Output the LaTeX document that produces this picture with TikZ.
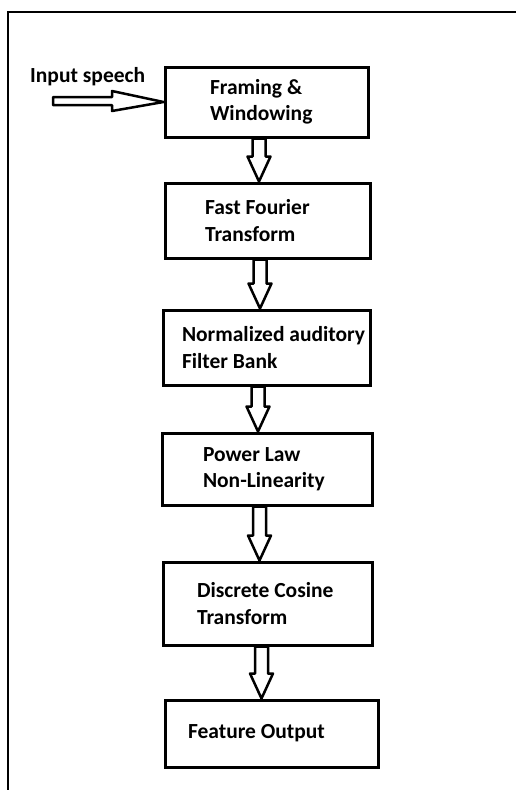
\documentclass[tikz,border=0pt]{standalone}
\usepackage{fontspec}
\setmainfont{Carlito}
\usetikzlibrary{calc}
\newcommand\blockdown[3]{%
  \draw[barrow] let \p1=(#1.south), \p2=(#2.north) in
    (\x1+#3pt-6.5pt,\y1) -- (\x1+#3pt+6.5pt,\y1) -- (\x1+#3pt+6.5pt,\y2+25pt)
    -- (\x1+#3pt+11.5pt,\y2+25pt) -- (\x1+#3pt,\y2) -- (\x1+#3pt-11.5pt,\y2+25pt)
    -- (\x1+#3pt-6.5pt,\y2+25pt) -- cycle;}
\begin{document}
\begin{tikzpicture}[x=1pt,y=-1pt,
  lbl/.style={font=\bfseries\fontsize{21.5}{26.5}\selectfont},
  box/.style={draw, line width=3pt, lbl, align=left, inner ysep=0pt, rectangle,
    execute at begin node={\spaceskip=0pt\xspaceskip=0pt}},
  barrow/.style={draw, line width=2.5pt, fill=white, line join=round}]
\useasboundingbox (0,0) rectangle (515,790);
\draw[line width=2.3pt] (8,800) -- (8,12) -- (530,12);

\node[box, inner xsep=45pt, text width=113pt, minimum height=70pt] (fw) at (266.5,102)
  {\mbox{Framing \&}\\\mbox{Windowing}};
\node[box, inner xsep=40pt, text width=125pt, minimum height=75pt] (fft) at (267.5,220.5)
  {\mbox{Fast Fourier}\\\mbox{Transform}};
\node[box, inner xsep=19pt, text width=169pt, minimum height=75pt] (nafb) at (266.5,347.5)
  {\mbox{Normalized auditory}\\\mbox{Filter Bank}};
\node[box, inner xsep=41pt, text width=128pt, minimum height=72pt] (pl) at (267,469)
  {\mbox{Power Law}\\\mbox{Non-Linearity}};
\node[box, inner xsep=34pt, text width=141pt, minimum height=83pt] (dct) at (267.5,603.5)
  {\mbox{Discrete Cosine}\\\mbox{Transform}};
\node[box, inner xsep=23pt, text width=167pt, minimum height=67pt] (fo) at (271.5,733.5)
  {\mbox{Feature Output}};

\node[lbl, anchor=base west, inner sep=0pt] (inlbl) at (30,82.7) {Input speech};
\coordinate (instart) at (53,101);
\draw[barrow] let \p1=(instart), \p2=(fw.west) in
  (\x1,\y1-4pt) -- (112,\y1-4pt) -- (112,\y1-10pt) -- (\x2,\y2) -- (112,\y1+10pt)
  -- (112,\y1+4pt) -- (\x1,\y1+4pt) -- cycle;

\blockdown{fw}{fft}{-7.5}
\blockdown{fft}{nafb}{-7.5}
\blockdown{nafb}{pl}{-8.5}
\blockdown{pl}{dct}{-7.5}
\blockdown{dct}{fo}{-6}
\end{tikzpicture}
\end{document}
